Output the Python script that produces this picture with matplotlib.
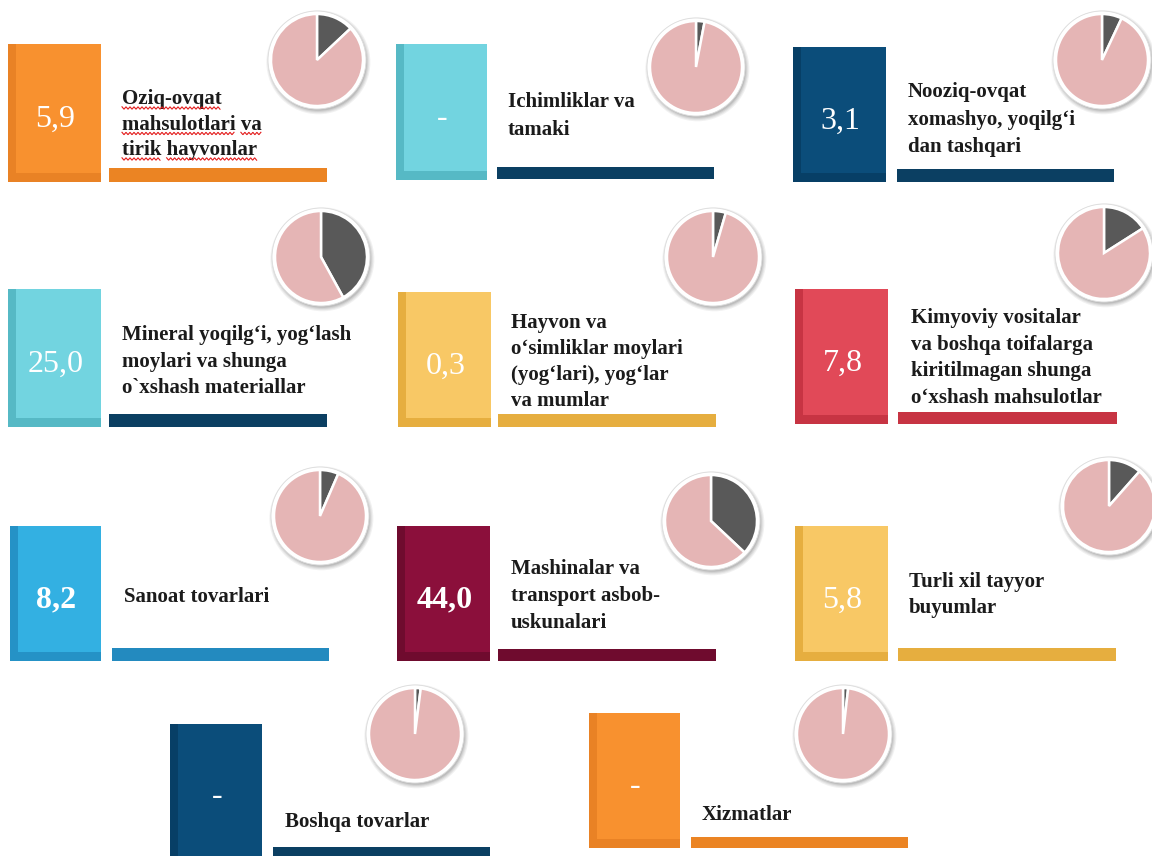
import matplotlib
matplotlib.use("Agg")
import matplotlib.pyplot as plt
from matplotlib.patches import Rectangle, Circle
import numpy as np

W, H = 1152, 856

# ---------------- data ----------------
categories = [
    "Oziq-ovqat\nmahsulotlari va\ntirik hayvonlar",
    "Ichimliklar va\ntamaki",
    "Nooziq-ovqat\nxomashyo, yoqilg‘i\ndan tashqari",
    "Mineral yoqilg‘i, yog‘lash\nmoylari va shunga\no`xshash materiallar",
    "Hayvon va\no‘simliklar moylari\n(yog‘lari), yog‘lar\nva mumlar",
    "Kimyoviy vositalar\nva boshqa toifalarga\nkiritilmagan shunga\no‘xshash mahsulotlar",
    "Sanoat tovarlari",
    "Mashinalar va\ntransport asbob-\nuskunalari",
    "Turli xil tayyor\nbuyumlar",
    "Boshqa tovarlar",
    "Xizmatlar",
]
values = [5.9, None, 3.1, 25.0, 0.3, 7.8, 8.2, 44.0, 5.8, None, None]
pie_shares = [13, 3, 7, 42, 4.5, 16, 6.5, 37, 11.5, 2, 1.8]   # % shown in each pie

box_main = ["#F8912F", "#72D4E0", "#0B4D7A", "#72D4E0", "#F8C865", "#E14958",
            "#33B0E2", "#8B0F3B", "#F8C865", "#0B4D7A", "#F8912F"]
box_dark = ["#E98225", "#56B9C5", "#073F66", "#56B9C5", "#E6AE3F", "#C73443",
            "#2592C6", "#6F0B2E", "#E6AE3F", "#073F66", "#E98225"]
underline_colors = ["#EB8423", "#0B3F62", "#0B3F62", "#0B3F62", "#E6AE3F", "#C73443",
                    "#238ABF", "#6F0B2E", "#E6AE3F", "#0B3F62", "#EB8423"]
bold_value = [False, False, False, False, False, False, True, True, False, False, False]
spell_flag = [True] + [False] * 10

PIE_PINK = "#E5B5B5"
PIE_DARK = "#595959"

# ---------------- layout (pixels, y downward) ----------------
boxes = [(8, 44, 101, 182), (396, 44, 487, 180), (793, 47, 886, 182),
         (8, 289, 101, 427), (398, 292, 491, 427), (795, 289, 888, 424),
         (10, 526, 101, 661), (397, 526, 490, 661), (795, 526, 888, 661),
         (170, 724, 262, 870), (589, 713, 680, 848)]
underlines = [(109, 168, 327, 182), (497, 167, 714, 179), (897, 169, 1114, 182),
              (109, 414, 327, 427), (498, 414, 716, 427), (898, 412, 1117, 424),
              (112, 648, 329, 661), (498, 649, 716, 661), (898, 648, 1116, 661),
              (273, 847, 490, 870), (691, 837, 908, 848)]
text_pos = [(122, 104), (508, 107), (908, 97),
            (122, 340), (511, 328), (911, 323),
            (124, 602), (511, 574), (909, 587),
            (285, 827), (702, 820)]
line_gap = [25.5, 28, 27.5, 26.5, 26, 26.5, 26, 27, 26, 26, 26]
pies = [(317, 60), (696, 67), (1102, 60),
        (321, 257), (713, 257), (1104, 253),
        (320, 516), (711, 521), (1109, 506),
        (415, 734), (843, 734)]
PIE_R = 46

fig = plt.figure(figsize=(W / 100, H / 100), dpi=100)
fig.patch.set_facecolor("white")
ax = fig.add_axes([0, 0, 1, 1])
ax.set_xlim(0, W)
ax.set_ylim(H, 0)
ax.axis("off")

renderer = fig.canvas.get_renderer()
LABEL_FONT = dict(family="Liberation Serif", weight="bold", size=15, color="#1b1b1b")


def squiggle(x0, x1, y):
    xs = np.arange(x0, x1 + 0.1, 2.0)
    ys = y + np.where(np.arange(len(xs)) % 2 == 0, -1.2, 1.2)
    ax.plot(xs, ys, color="#E31B1B", lw=0.8, solid_joinstyle="miter", zorder=4)


for i, label in enumerate(categories):
    x0, y0, x1, y1 = boxes[i]
    w, h = x1 - x0, y1 - y0
    ax.add_patch(Rectangle((x0, y0), w, h, facecolor=box_main[i], edgecolor="none", zorder=1))
    ax.add_patch(Rectangle((x0, y0), 8, h, facecolor=box_dark[i], edgecolor="none", zorder=2))
    ax.add_patch(Rectangle((x0, y1 - 9), w, 9, facecolor=box_dark[i], edgecolor="none", zorder=2))

    ux0, uy0, ux1, uy1 = underlines[i]
    ax.add_patch(Rectangle((ux0, uy0), ux1 - ux0, uy1 - uy0,
                           facecolor=underline_colors[i], edgecolor="none", zorder=1))

    v = values[i]
    vtxt = "-" if v is None else f"{v:.1f}".replace(".", ",")
    ax.text((x0 + x1) / 2 + 1, (y0 + min(y1, H)) / 2 + 14 if i != 9 else (y0 + 856) / 2 + 14,
            vtxt, ha="center", va="baseline", color="white",
            family="Liberation Serif", size=23,
            weight="bold" if bold_value[i] else "normal", zorder=3)

    tx, ty = text_pos[i]
    for j, line in enumerate(label.split("\n")):
        yb = ty + j * line_gap[i]
        ax.text(tx, yb, line, ha="left", va="baseline", zorder=3, **LABEL_FONT)
        if spell_flag[i]:
            pos = 0
            for word in line.split(" "):
                prefix = line[:pos]
                if prefix:
                    tp = ax.text(tx, yb, prefix, **LABEL_FONT)
                    # trailing space not measured reliably -> measure prefix + word instead
                    tp.remove()
                tw = ax.text(tx, yb, line[:pos + len(word)], **LABEL_FONT)
                ext_full = tw.get_window_extent(renderer)
                tw.remove()
                if prefix.strip():
                    tpp = ax.text(tx, yb, prefix + "x", **LABEL_FONT)
                    e2 = tpp.get_window_extent(renderer)
                    tpx = ax.text(tx, yb, "x", **LABEL_FONT)
                    e3 = tpx.get_window_extent(renderer)
                    tpp.remove(); tpx.remove()
                    start = tx + (e2.x1 - e2.x0) - (e3.x1 - e3.x0)
                else:
                    start = tx
                end = tx + (ext_full.x1 - ext_full.x0)
                squiggle(start, end, yb + 4)
                pos += len(word) + 1

# ---------------- pies ----------------
for i, share in enumerate(pie_shares):
    cx, cy = pies[i]
    R = PIE_R + 12
    pax = fig.add_axes([(cx - R) / W, 1 - (cy + R) / H, 2 * R / W, 2 * R / H])
    lim = R / PIE_R
    # soft shadow
    for k, a in enumerate([0.10, 0.12, 0.16, 0.22]):
        pax.add_patch(Circle((0.03, -0.05), 1.13 - 0.025 * k, facecolor="#7a7a7a",
                             edgecolor="none", alpha=a, zorder=0))
    pax.add_patch(Circle((0, 0), 1.065, facecolor="white", edgecolor="#dcdcdc",
                         lw=0.6, zorder=1))
    wedges, _ = pax.pie([share, 100 - share], colors=[PIE_DARK, PIE_PINK],
                        startangle=90, counterclock=False, radius=1.0, frame=True,
                        wedgeprops=dict(edgecolor="white", linewidth=1.8))
    for wdg in wedges:
        wdg.set_zorder(2)
    pax.set_xlim(-lim, lim)
    pax.set_ylim(-lim, lim)
    pax.set_aspect("equal")
    pax.axis("off")

fig.savefig("out.png", dpi=100, facecolor="white")
